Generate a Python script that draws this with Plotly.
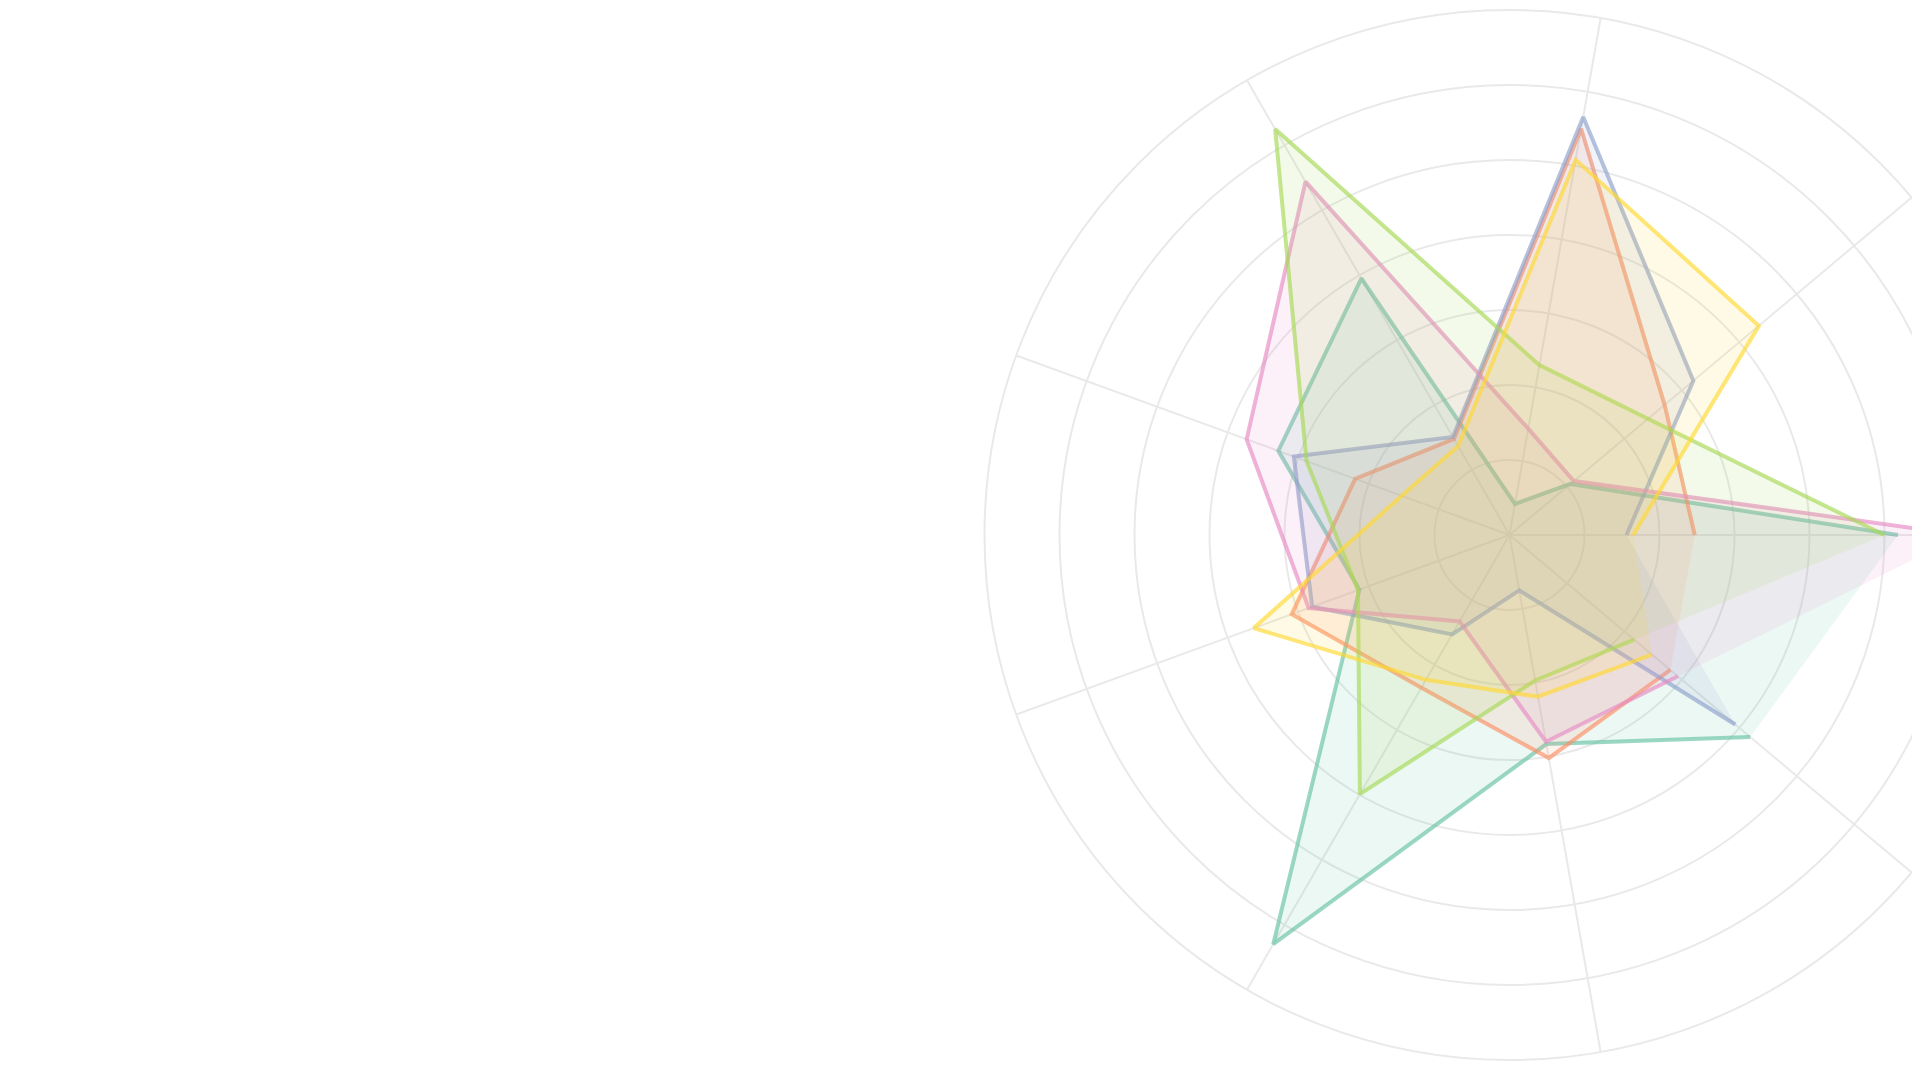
import plotly.graph_objects as go

categories = ["C1", "C2", "C3", "C4", "C5", "C6", "C7", "C8", "C9"]

series_names = ["Series 1", "Series 2", "Series 3", "Series 4", "Series 5", "Series 6"]
teal_vals = [5.18, 1.06, 0.42, 3.95, 3.28, 2.13, 6.3, 2.83, 4.19]
orange_vals = [2.47, 2.7, 5.5, 1.48, 2.19, 3.09, 2.35, 3.02, 2.8]
blue_vals = [1.56, 3.2, 5.66, 1.51, 3.06, 2.8, 1.53, 0.75, 3.93]
pink_vals = [6.05, 1.12, 1.44, 5.44, 3.73, 2.85, 1.33, 2.8, 2.93]
green_vals = [5.0, 2.41, 2.3, 6.25, 2.88, 2.15, 3.99, 1.97, 2.17]
yellow_vals = [1.65, 4.34, 5.08, 1.37, 1.53, 3.63, 2.23, 2.19, 2.48]

all_vals = [teal_vals, orange_vals, blue_vals, pink_vals, green_vals, yellow_vals]
colors = [(102, 194, 165), (252, 141, 98), (141, 160, 203),
          (231, 138, 195), (166, 216, 84), (255, 217, 47)]

fig = go.Figure()
for name, vals, (r, g, b) in zip(series_names, all_vals, colors):
    fig.add_trace(go.Scatterpolar(
        r=vals,
        theta=categories,
        name=name,
        fill="toself",
        mode="lines",
        line=dict(color=f"rgba({r},{g},{b},0.65)", width=4),
        fillcolor=f"rgba({r},{g},{b},0.12)",
    ))

W = 2200
fig.update_layout(
    width=W,
    height=1080,
    margin=dict(l=0, r=0, t=2, b=28),
    paper_bgcolor="white",
    plot_bgcolor="white",
    showlegend=False,
    polar=dict(
        domain=dict(x=[0.365, 1.0], y=[0, 1]),
        bgcolor="white",
        radialaxis=dict(range=[0, 7], dtick=1, showticklabels=False, ticks="",
                        showline=False, gridcolor="#e9e9e9", gridwidth=2),
        angularaxis=dict(rotation=0, direction="counterclockwise",
                         showticklabels=False, ticks="", showline=True,
                         linecolor="#e9e9e9", linewidth=2,
                         gridcolor="#e9e9e9", gridwidth=2),
    ),
)

fig.write_html("out.html")
